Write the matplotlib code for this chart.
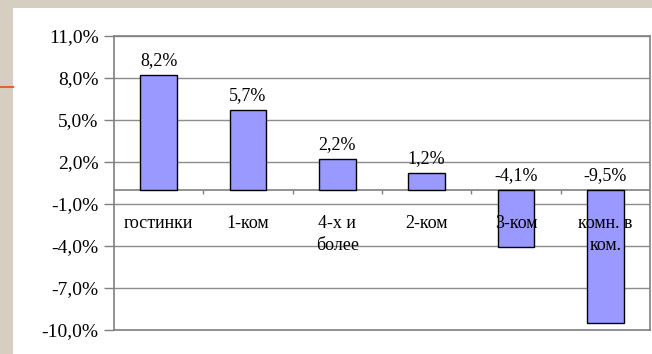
import numpy as np
import matplotlib.pyplot as plt
from matplotlib.patches import Rectangle
from matplotlib.ticker import FuncFormatter
from matplotlib.lines import Line2D

# data
categories = ['гостинки', '1-ком', '4-х и\nболее', '2-ком', '3-ком', 'комн. в\nком.']
values = [8.2, 5.7, 2.2, 1.2, -4.1, -9.5]
yticks = [-10, -7, -4, -1, 2, 5, 8, 11]

serif = 'Liberation Serif'
bar_color = '#9999FF'

fig = plt.figure(figsize=(6.52, 3.54), dpi=100)
fig.patch.set_facecolor('#D6CFC1')
# white slide panel plus the orange rule on the left edge
fig.patches.append(Rectangle((13/652, 0), 1, 1 - 8/354, transform=fig.transFigure,
                             facecolor='white', edgecolor='none', zorder=-5))
fig.lines.append(Line2D([0, 13/652], [1 - 87/354, 1 - 87/354], transform=fig.transFigure,
                        color='#E2632E', lw=1.5, zorder=-4))

ax = fig.add_axes([114/652, 24/354, 536/652, 294/354])
ax.set_zorder(1)
x = np.arange(len(categories))
ax.bar(x, values, width=0.41, color=bar_color, edgecolor='black', linewidth=1.0, zorder=3)

ax.set_xlim(-0.5, len(categories) - 0.5)
ax.set_ylim(-10, 11)
ax.set_yticks(yticks)
ax.yaxis.set_major_formatter(FuncFormatter(lambda v, p: '{:.1f}%'.format(v).replace('.', ',')))
ax.tick_params(axis='y', length=7, width=1, color='#808080', pad=4, labelsize=14)
for lab in ax.get_yticklabels():
    lab.set_fontfamily(serif)
ax.set_xticks([])
ax.grid(axis='y', color='#8c8c8c', lw=1, zorder=1)
for s in ax.spines.values():
    s.set_color('#808080')
    s.set_linewidth(1.2)

# zero line with small ticks between categories
ax.axhline(0, color='#808080', lw=1.2, zorder=2)
ax.vlines(x[1:] - 0.5, -0.3, 0, color='#808080', lw=1, zorder=2)

# value labels
for xi, v in zip(x, values):
    ypos = v if v > 0 else 0
    ax.text(xi, ypos + 0.45, '{:.1f}%'.format(v).replace('.', ','), ha='center', va='bottom',
            fontsize=13, family=serif, zorder=4)

# category labels under the zero line
for xi, c in zip(x, categories):
    ax.text(xi, -1.75, c, ha='center', va='top', fontsize=13, family=serif,
            linespacing=1.45, zorder=4)

fig.savefig('out.png', dpi=100, facecolor=fig.get_facecolor())
